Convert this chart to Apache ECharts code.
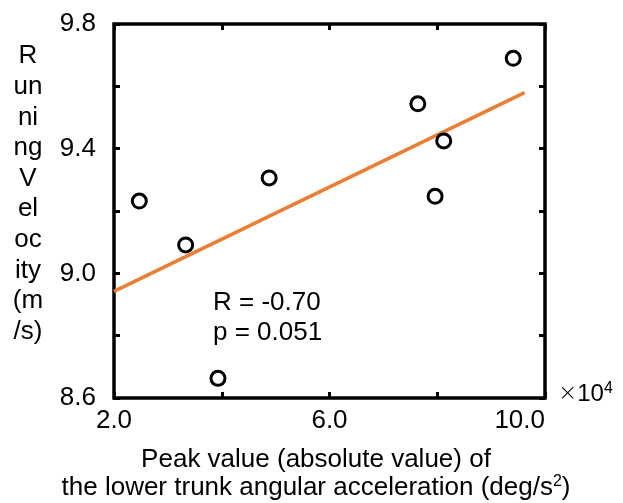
<!DOCTYPE html>
<html>
<head>
<meta charset="utf-8">
<script src="https://cdn.jsdelivr.net/npm/echarts@6/dist/echarts.min.js"></script>
<style>
  html, body { margin: 0; padding: 0; background: #fff; }
  #scatter { width: 623px; height: 503px; }
</style>
</head>
<body>
<div id="scatter"></div>
<script>
// peak lower trunk angular acceleration (x10^4 deg/s^2) vs running velocity (m/s)
const accelPeak = [2.47, 3.33, 3.93, 4.88, 7.64, 7.96, 8.12, 9.41];
const runVelocity = [9.232, 9.091, 8.663, 9.306, 9.544, 9.247, 9.425, 9.690];

// regression line end points
const fitX = [2.0, 9.62];
const fitY = [8.942, 9.58];

const yTitleLines = ['R', 'un', 'ni', 'ng', 'V', 'el', 'oc', 'ity', '(m', '/s)'];
const statLines = ['R = -0.70', 'p = 0.051'];

const font = "'Liberation Sans', Arial, sans-serif";

var chartDom = document.getElementById('scatter');
var myChart = echarts.init(chartDom);
var option;

const tickStyle = { show: true, inside: true, length: 6, lineStyle: { color: '#000', width: 3 } };

option = {
  animation: false,
  backgroundColor: '#fff',
  textStyle: { fontFamily: font },
  grid: {
    left: 114, right: 78, top: 24, bottom: 105,
    show: true, borderColor: '#000', borderWidth: 3.5
  },
  xAxis: [
    {
      type: 'value', min: 2, max: 10, interval: 2,
      axisLine: { show: false },
      axisTick: tickStyle,
      splitLine: { show: false },
      axisLabel: {
        color: '#000', fontSize: 26, fontFamily: font, margin: 10,
        alignMaxLabel: 'right',
        formatter: function (v) {
          // labels only every other tick
          return Math.round(v) % 4 === 2 ? v.toFixed(1) : '';
        }
      }
    },
    {
      type: 'value', position: 'top', min: 2, max: 10, interval: 2,
      axisLine: { show: false }, axisTick: tickStyle,
      splitLine: { show: false }, axisLabel: { show: false }
    }
  ],
  yAxis: [
    {
      type: 'value', min: 8.6, max: 9.8, interval: 0.2,
      axisLine: { show: false },
      axisTick: tickStyle,
      splitLine: { show: false },
      axisLabel: {
        color: '#000', fontSize: 26, fontFamily: font, margin: 18,
        formatter: function (v) {
          return Math.round(v * 10) % 4 === 2 ? v.toFixed(1) : '';
        }
      }
    },
    {
      type: 'value', position: 'right', min: 8.6, max: 9.8, interval: 0.2,
      axisLine: { show: false }, axisTick: tickStyle,
      splitLine: { show: false }, axisLabel: { show: false }
    }
  ],
  graphic: [
    {
      type: 'text', x: 28, y: 41,
      style: {
        text: yTitleLines.join('\n'),
        fontSize: 26, fontFamily: font, fill: '#000',
        align: 'center', verticalAlign: 'top', lineHeight: 30.6
      }
    },
    {
      type: 'text', x: 213, y: 288,
      style: {
        text: statLines.join('\n'),
        fontSize: 26, fontFamily: font, fill: '#000',
        verticalAlign: 'top', lineHeight: 30
      }
    },
    {
      type: 'text', x: 558, y: 381,
      style: {
        text: '{x|×}{n|10}{s|4}',
        fill: '#000', verticalAlign: 'top',
        rich: {
          x: { fontSize: 23, fontFamily: "'DejaVu Sans', sans-serif", fontWeight: 200, fill: '#000', verticalAlign: 'bottom' },
          n: { fontSize: 24, fontFamily: font, fill: '#000', verticalAlign: 'bottom' },
          s: { fontSize: 16, fontFamily: font, fill: '#000', verticalAlign: 'top', padding: [0, 0, 9, 0] }
        }
      }
    },
    {
      type: 'text', x: 316, y: 446,
      style: {
        text: 'Peak value (absolute value) of\nthe lower trunk angular acceleration (deg/s{s|2})',
        fontSize: 26, fontFamily: font, fill: '#000',
        align: 'center', verticalAlign: 'top', lineHeight: 28,
        rich: {
          s: { fontSize: 16, fontFamily: font, fill: '#000', verticalAlign: 'top', padding: [0, 0, 10, 0] }
        }
      }
    }
  ],
  series: [
    {
      name: 'fit',
      type: 'line',
      data: fitX.map(function (x, i) { return [x, fitY[i]]; }),
      symbol: 'none',
      lineStyle: { color: '#ED7D31', width: 3.5 },
      z: 2
    },
    {
      name: 'subjects',
      type: 'scatter',
      data: accelPeak.map(function (x, i) { return [x, runVelocity[i]]; }),
      symbol: 'circle',
      symbolSize: 14,
      itemStyle: { color: '#fff', borderColor: '#000', borderWidth: 3, opacity: 1 },
      z: 3
    }
  ]
};

if (option && typeof option === 'object') {
  myChart.setOption(option);
}

window.onresize = function () {
  myChart.resize();
};
</script>
</body>
</html>
